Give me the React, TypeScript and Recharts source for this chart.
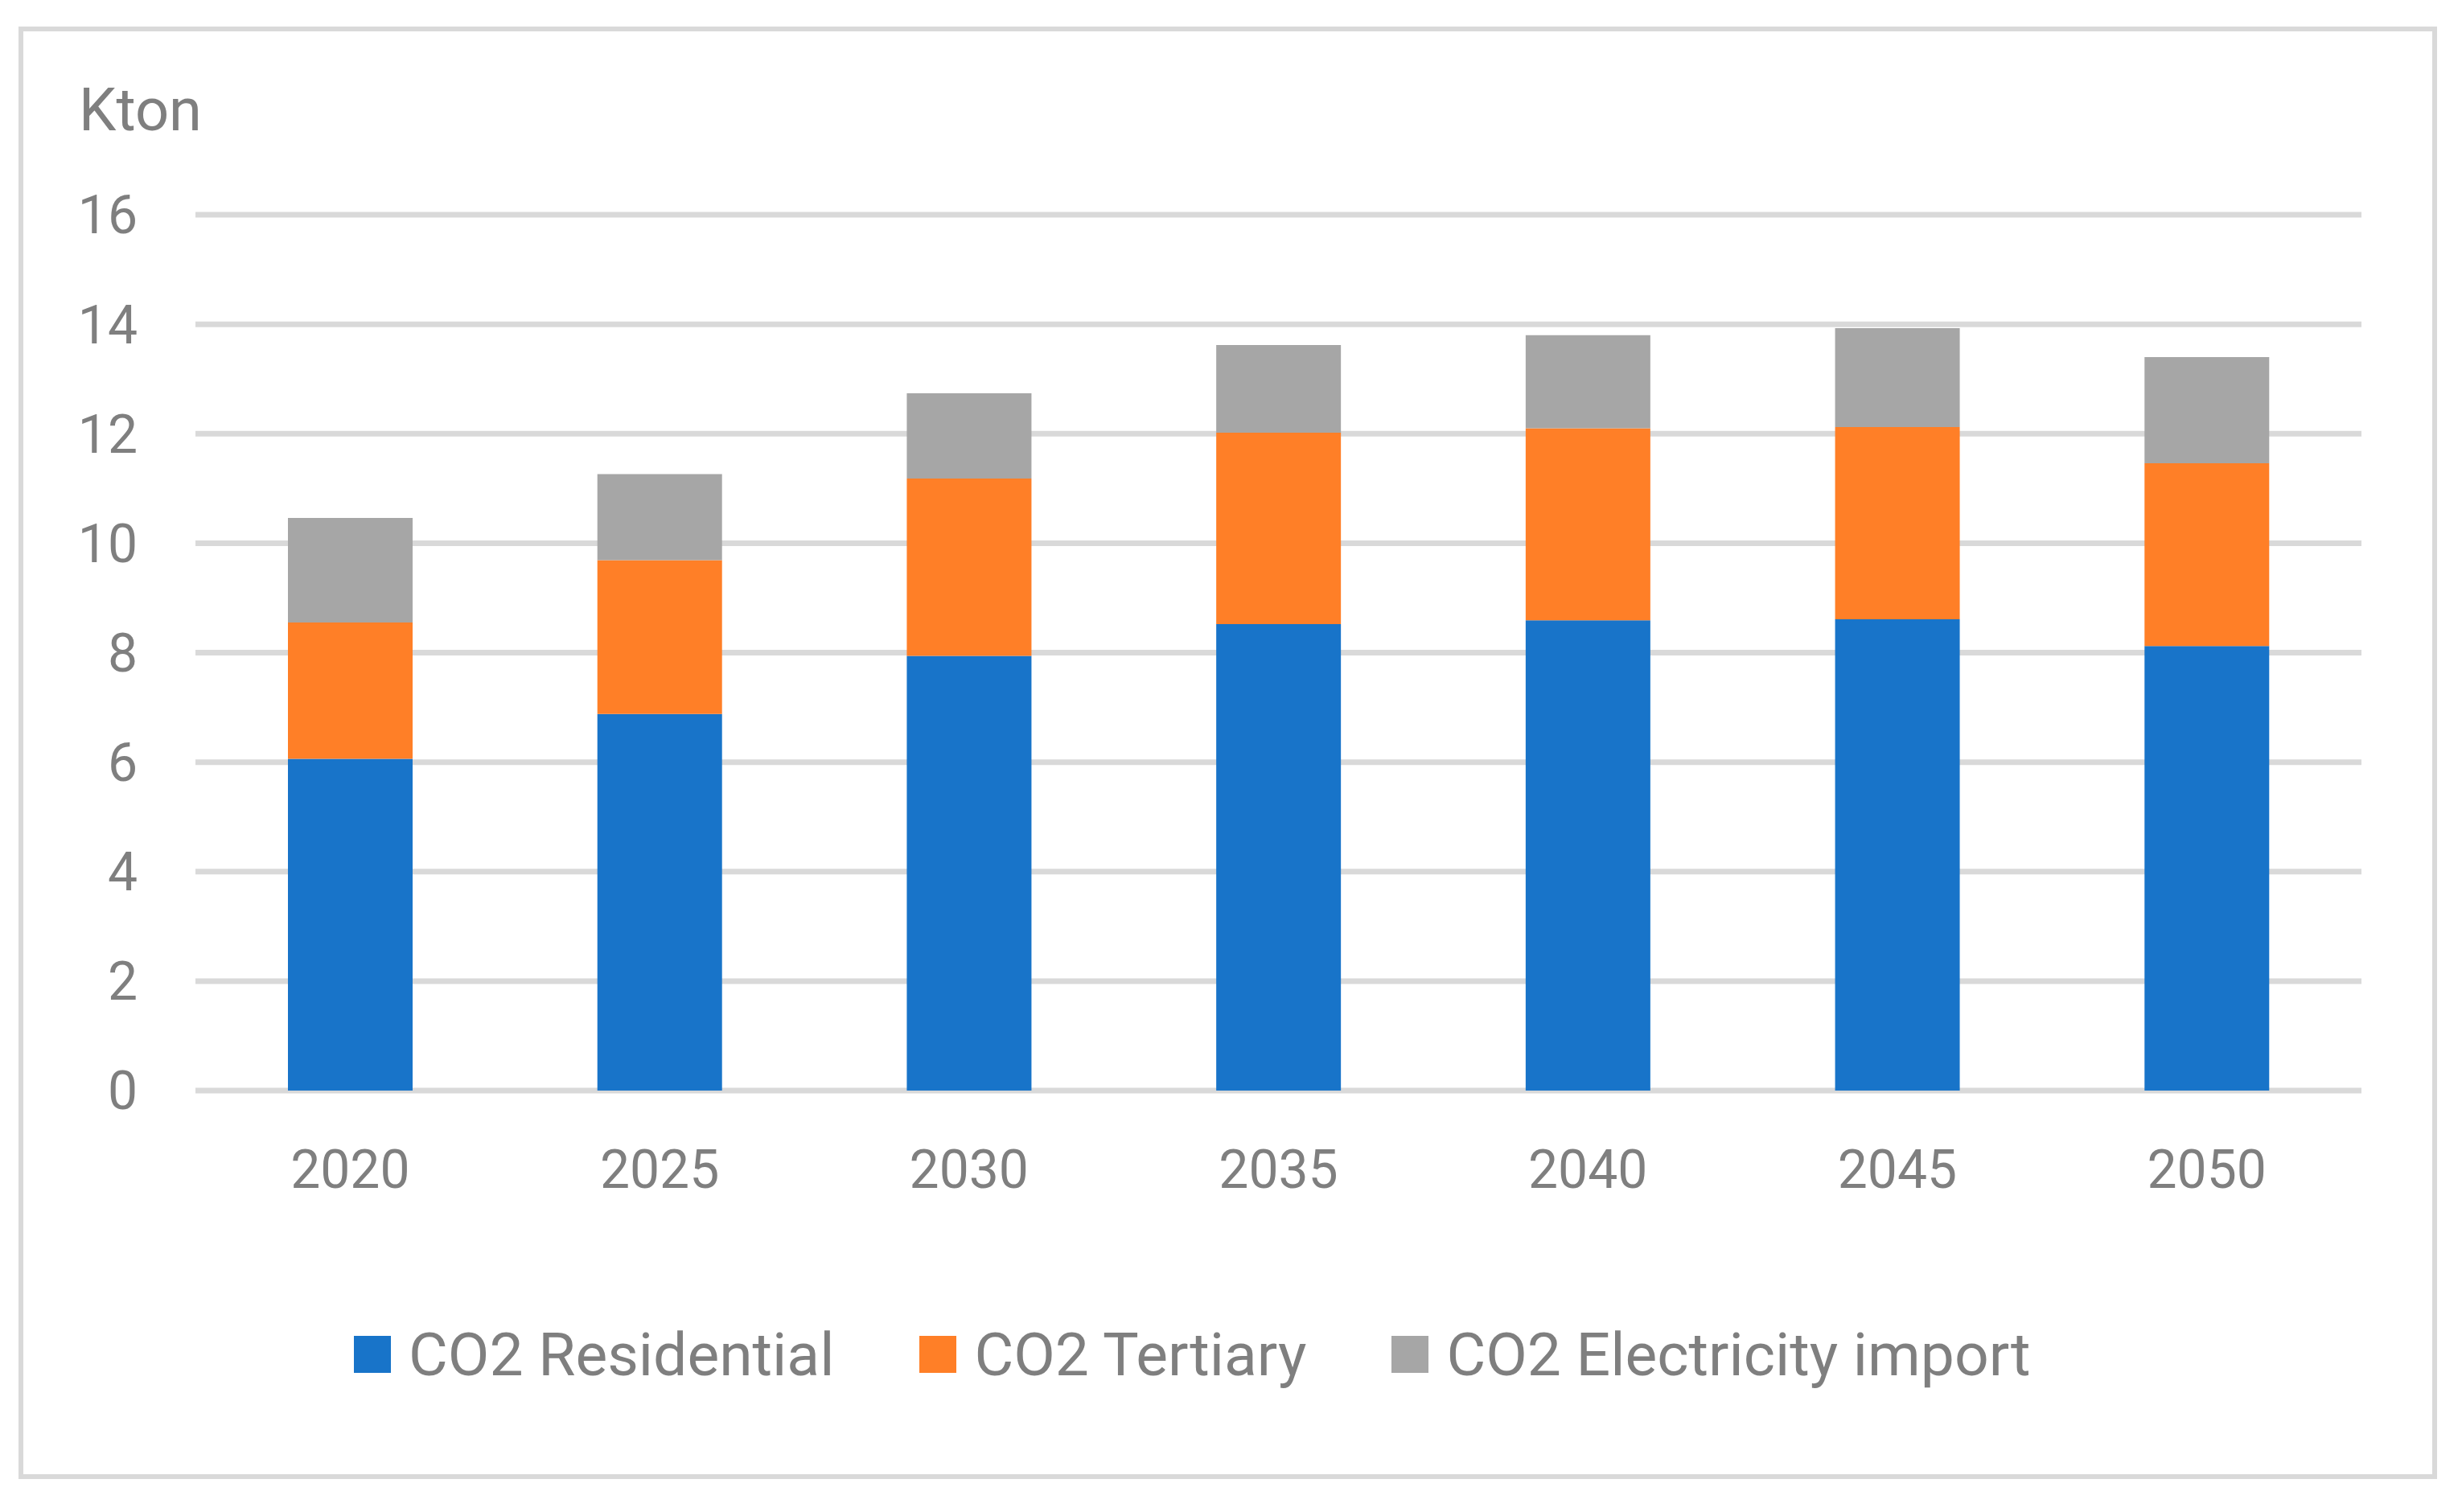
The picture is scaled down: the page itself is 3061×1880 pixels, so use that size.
import React from 'react';
import { BarChart, Bar, XAxis, YAxis, CartesianGrid, Legend } from 'recharts';

const years = ['2020', '2025', '2030', '2035', '2040', '2045', '2050'];
const residential = [6.06, 6.88, 7.94, 8.52, 8.59, 8.61, 8.12];
const tertiary = [2.49, 2.81, 3.24, 3.5, 3.51, 3.51, 3.34];
const electricity = [1.91, 1.57, 1.56, 1.6, 1.7, 1.81, 1.94];
const yTicks = [0, 2, 4, 6, 8, 10, 12, 14, 16];

const SERIES = [
  { key: 'residential', name: 'CO2 Residential', color: '#1874C9' },
  { key: 'tertiary', name: 'CO2 Tertiary', color: '#FF7F27' },
  { key: 'electricity', name: 'CO2 Electricity import', color: '#A6A6A6' },
];

const TEXT = '#7F7F7F';
const FONT = 'Roboto, "Open Sans", sans-serif';

const data = years.map((year, i) => ({
  year,
  residential: residential[i],
  tertiary: tertiary[i],
  electricity: electricity[i],
}));

function LegendContent({ payload }: any) {
  // keep the series order, not the alphabetical one
  const order = SERIES.map((s) => s.name);
  const items = [...(payload || [])].sort(
    (a: any, b: any) => order.indexOf(a.value) - order.indexOf(b.value)
  );
  return (
    <div style={{ display: 'flex', alignItems: 'center', fontFamily: FONT, fontSize: 75, color: TEXT }}>
      {items.map((entry: any, i: number) => (
        <div key={`legend-${i}`} style={{ display: 'flex', alignItems: 'center', marginRight: 106 }}>
          <span style={{ width: 46, height: 46, background: entry.color, marginRight: 22, display: 'inline-block' }} />
          <span style={{ whiteSpace: 'nowrap' }}>{entry.value}</span>
        </div>
      ))}
    </div>
  );
}

export default function App() {
  return (
    <div style={{ position: 'absolute', left: 0, top: 0, width: 3061, height: 1880, background: '#fff' }}>
      <div
        style={{
          position: 'absolute',
          left: 23,
          top: 33,
          width: 3007,
          height: 1806,
          border: '6px solid #D9D9D9',
          boxSizing: 'border-box',
        }}
      />
      <div
        style={{
          position: 'absolute',
          left: 98,
          top: 100,
          fontFamily: FONT,
          fontSize: 74,
          lineHeight: 1,
          color: TEXT,
        }}
      >
        Kton
      </div>
      <div style={{ position: 'absolute', left: 0, top: 0 }}>
        <BarChart
          width={3061}
          height={1880}
          data={data}
          margin={{ top: 267, right: 125, bottom: 424, left: 0 }}
          barSize={155}
        >
          <CartesianGrid vertical={false} stroke="#D9D9D9" strokeWidth={7} />
          <XAxis
            dataKey="year"
            height={100}
            axisLine={false}
            tickLine={false}
            tickSize={0}
            tickMargin={74}
            tick={{ fill: TEXT, fontSize: 66, fontFamily: FONT }}
          />
          <YAxis
            width={243}
            domain={[0, 16]}
            ticks={yTicks}
            axisLine={false}
            tickLine={false}
            tickSize={0}
            tickMargin={72}
            tick={{ fill: TEXT, fontSize: 66, fontFamily: FONT }}
          />
          <Legend
            layout="horizontal"
            verticalAlign="middle"
            align="center"
            itemSorter={null}
            wrapperStyle={{ top: 1640, left: 440, width: 'auto' }}
            content={<LegendContent />}
          />
          {SERIES.map((s) => (
            <Bar
              key={s.key}
              dataKey={s.key}
              name={s.name}
              stackId="co2"
              fill={s.color}
              isAnimationActive={false}
            />
          ))}
        </BarChart>
      </div>
    </div>
  );
}
